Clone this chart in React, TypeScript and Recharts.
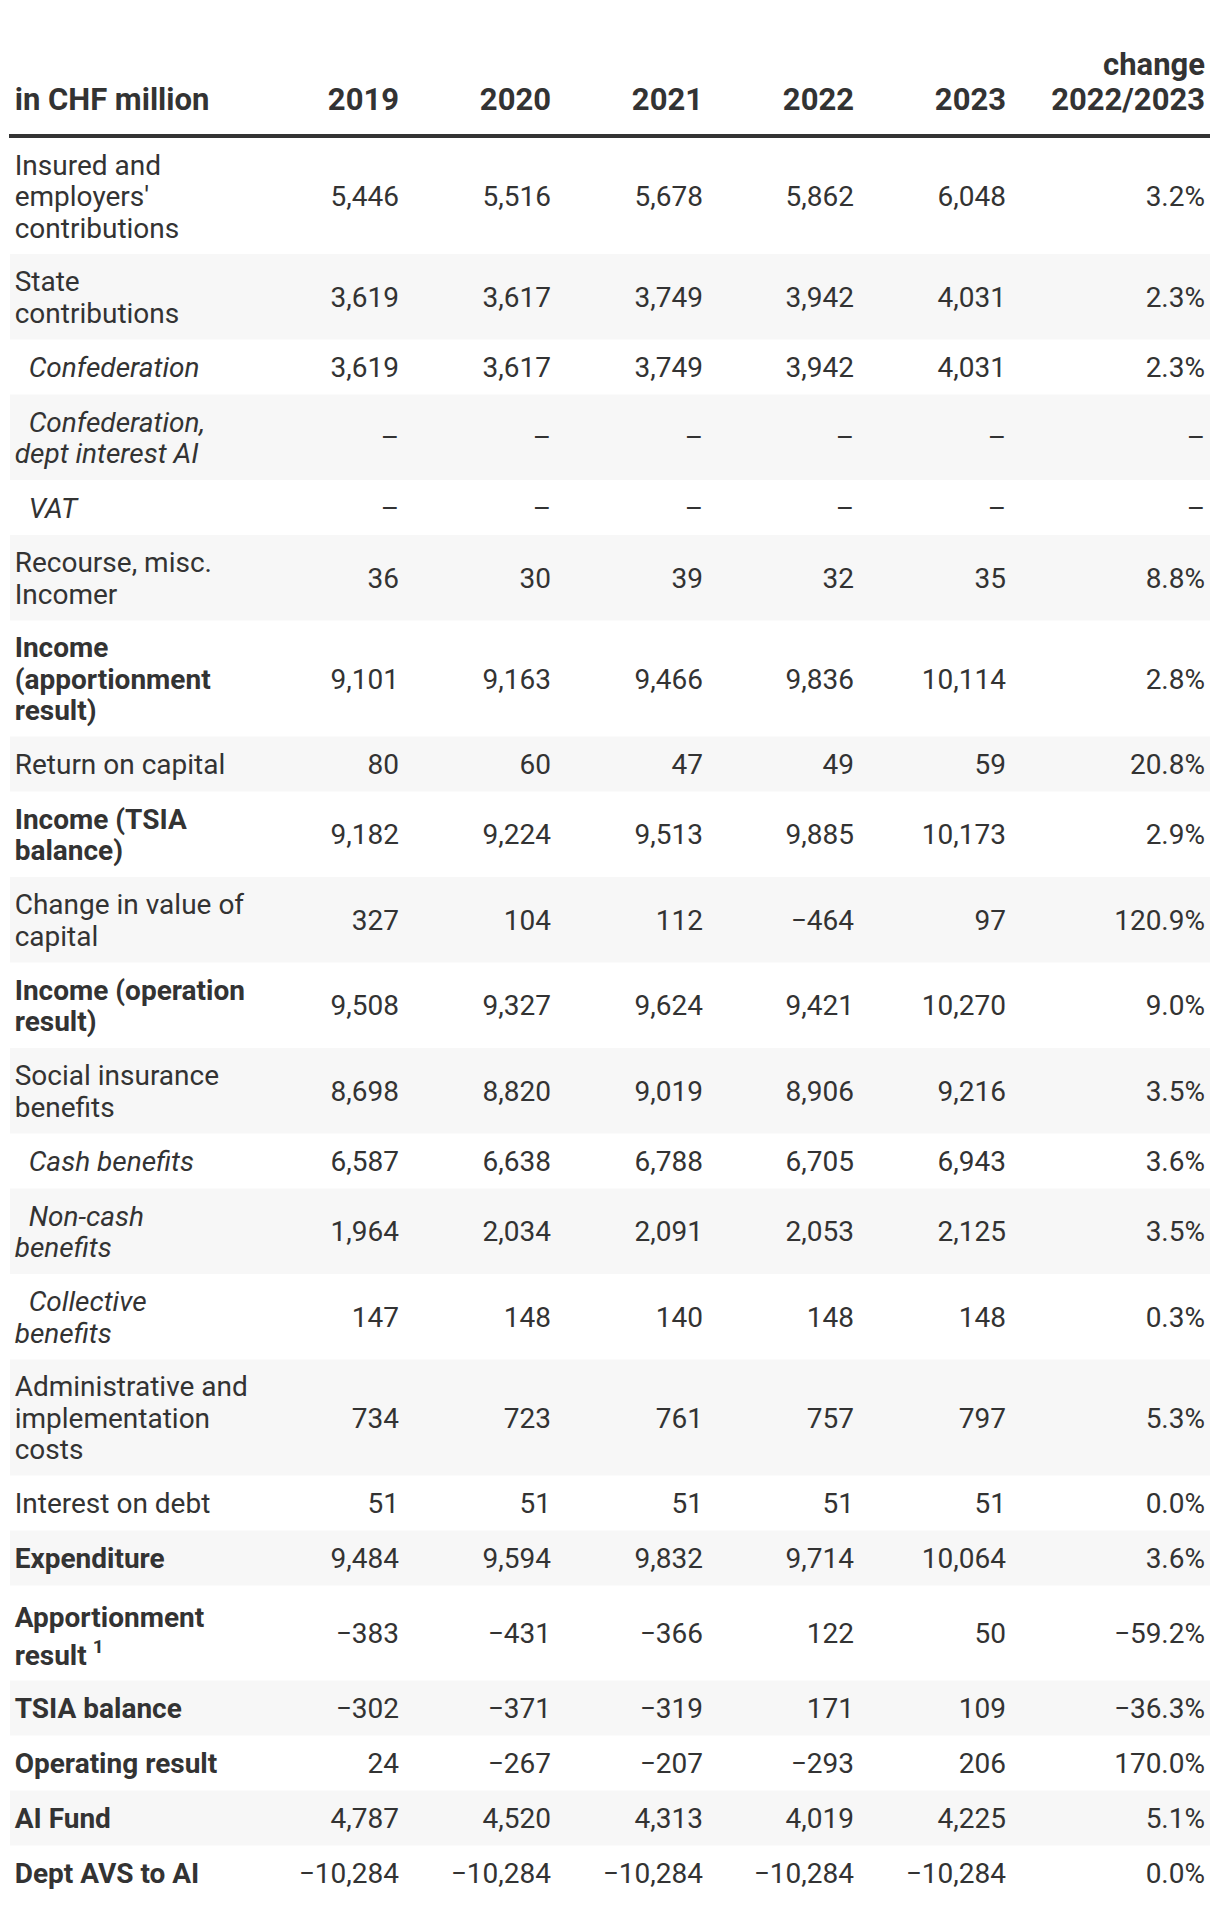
import React from "react";
import { ComposedChart, XAxis, YAxis, Scatter, ReferenceArea } from "recharts";

const unitLabel = "in CHF million";
const years = ["2019", "2020", "2021", "2022", "2023"];
const changeHeader = ["change", "2022/2023"];

const rowLabels: string[][] = [
  ["Insured and", "employers'", "contributions"],
  ["State", "contributions"],
  ["Confederation"],
  ["Confederation,", "dept interest AI"],
  ["VAT"],
  ["Recourse, misc.", "Incomer"],
  ["Income", "(apportionment", "result)"],
  ["Return on capital"],
  ["Income (TSIA", "balance)"],
  ["Change in value of", "capital"],
  ["Income (operation", "result)"],
  ["Social insurance", "benefits"],
  ["Cash benefits"],
  ["Non-cash", "benefits"],
  ["Collective", "benefits"],
  ["Administrative and", "implementation", "costs"],
  ["Interest on debt"],
  ["Expenditure"],
  ["Apportionment", "result"],
  ["TSIA balance"],
  ["Operating result"],
  ["AI Fund"],
  ["Dept AVS to AI"],
];

const rowStyles = [
  "normal", "normal", "italic", "italic", "italic", "normal", "bold", "normal",
  "bold", "normal", "bold", "normal", "italic", "italic", "italic", "normal",
  "normal", "bold", "bold", "bold", "bold", "bold", "bold",
];

const footnotes: Record<number, string> = { 18: "1" };

const v2019 = [5446, 3619, 3619, null, null, 36, 9101, 80, 9182, 327, 9508, 8698, 6587, 1964, 147, 734, 51, 9484, -383, -302, 24, 4787, -10284];
const v2020 = [5516, 3617, 3617, null, null, 30, 9163, 60, 9224, 104, 9327, 8820, 6638, 2034, 148, 723, 51, 9594, -431, -371, -267, 4520, -10284];
const v2021 = [5678, 3749, 3749, null, null, 39, 9466, 47, 9513, 112, 9624, 9019, 6788, 2091, 140, 761, 51, 9832, -366, -319, -207, 4313, -10284];
const v2022 = [5862, 3942, 3942, null, null, 32, 9836, 49, 9885, -464, 9421, 8906, 6705, 2053, 148, 757, 51, 9714, 122, 171, -293, 4019, -10284];
const v2023 = [6048, 4031, 4031, null, null, 35, 10114, 59, 10173, 97, 10270, 9216, 6943, 2125, 148, 797, 51, 10064, 50, 109, 206, 4225, -10284];
const change = [3.2, 2.3, 2.3, null, null, 8.8, 2.8, 20.8, 2.9, 120.9, 9.0, 3.5, 3.6, 3.5, 0.3, 5.3, 0.0, 3.6, -59.2, -36.3, 170.0, 5.1, 0.0];

// layout
const W = 1204;
const H = 1900;
const TEXT = "#333333";
const STRIPE = "#f7f7f7";
const FONT = "Roboto, 'Noto Sans', sans-serif";
const ROW_LINE = 30.5;
const TEXT_LINE = 31.5;
const PAD = 12.25;
const SUP_EXTRA = 9.5;
const HEAD_TOP = 126;
const BODY_TOP = 130;
const LABEL_X = 6.7;
const INDENT = 14;
const colRight = [391, 543, 695, 846, 998];
const changeRight = 1197;

const fmtNum = (v: number | null) =>
  v == null ? "–" : v.toLocaleString("en-US").replace("-", "−");
const fmtPct = (v: number | null) =>
  v == null ? "–" : v.toFixed(1).replace("-", "−") + "%";

let cursor = BODY_TOP;
const rows = rowLabels.map((label, i) => {
  const h = label.length * ROW_LINE + 2 * PAD + (footnotes[i] ? SUP_EXTRA : 0);
  const row = { i, label, top: cursor, bottom: cursor + h, mid: cursor + h / 2 };
  cursor += h;
  return row;
});

const valueCols = [v2019, v2020, v2021, v2022, v2023];

const labelPoints = rows.map((r) => ({ x: LABEL_X, y: r.top, row: r }));

const numberShape = (size: number, weight: string | number) => (p: any) => (
  <text
    x={p.cx}
    y={p.cy + 10}
    textAnchor="end"
    fontFamily={FONT}
    fontSize={size}
    fontWeight={weight}
    fill={TEXT}
  >
    {p.payload.text}
  </text>
);

const LabelShape = (p: any) => {
  const r = p.payload.row;
  const style = rowStyles[r.i];
  const note = footnotes[r.i];
  const n = r.label.length;
  const gap = note ? ROW_LINE + 7.5 : TEXT_LINE;
  const mid = p.cy + (r.bottom - r.top) / 2;
  const first = note
    ? p.cy + PAD + 29.25
    : mid - ((n - 1) / 2) * gap + 10;
  return (
    <text
      fontFamily={FONT}
      fontSize={28}
      fontWeight={style === "bold" ? 700 : 400}
      fontStyle={style === "italic" ? "italic" : "normal"}
      fill={TEXT}
    >
      {r.label.map((line: string, k: number) => (
        <tspan
          key={k}
          x={p.cx + (style === "italic" && k === 0 ? INDENT : 0)}
          y={first + k * gap}
        >
          {line}
          {note && k === n - 1 ? (
            <tspan dx={6} dy={-12} fontSize={19}>
              {note}
            </tspan>
          ) : null}
        </tspan>
      ))}
    </text>
  );
};

const headerPoints = [
  ...years.map((y, k) => ({ x: colRight[k], y: 92, text: y })),
  { x: changeRight, y: 92, text: changeHeader[1] },
  { x: changeRight, y: 57, text: changeHeader[0] },
];

const HeaderUnit = (p: any) => (
  <text x={p.cx} y={p.cy + 10} fontFamily={FONT} fontSize={31} fontWeight={700} fill={TEXT}>
    {p.payload.text}
  </text>
);

export default function App() {
  return (
    <div style={{ width: W, height: H }}>
      <ComposedChart
        width={W}
        height={H}
        margin={{ top: 0, right: 0, bottom: 0, left: 0 }}
      >
        <XAxis type="number" dataKey="x" domain={[0, W]} hide />
        <YAxis type="number" dataKey="y" domain={[0, H]} reversed hide />
        {rows
          .filter((r) => r.i % 2 === 1)
          .map((r) => (
            <ReferenceArea
              key={"s" + r.i}
              x1={2}
              x2={1202}
              y1={r.top}
              y2={r.bottom}
              fill={STRIPE}
              fillOpacity={1}
              stroke="none"
            />
          ))}
        <ReferenceArea
          x1={1}
          x2={1202}
          y1={HEAD_TOP}
          y2={BODY_TOP}
          fill={TEXT}
          fillOpacity={1}
          stroke="none"
        />
        <Scatter
          data={[{ x: LABEL_X, y: 92, text: unitLabel }]}
          shape={HeaderUnit}
          isAnimationActive={false}
        />
        <Scatter
          data={headerPoints}
          shape={numberShape(31, 700)}
          isAnimationActive={false}
        />
        <Scatter data={labelPoints} shape={LabelShape} isAnimationActive={false} />
        {valueCols.map((col, k) => (
          <Scatter
            key={years[k]}
            data={rows.map((r) => ({ x: colRight[k], y: r.mid, text: fmtNum(col[r.i]) }))}
            shape={numberShape(28, 400)}
            isAnimationActive={false}
          />
        ))}
        <Scatter
          data={rows.map((r) => ({ x: changeRight, y: r.mid, text: fmtPct(change[r.i]) }))}
          shape={numberShape(28, 400)}
          isAnimationActive={false}
        />
      </ComposedChart>
    </div>
  );
}
